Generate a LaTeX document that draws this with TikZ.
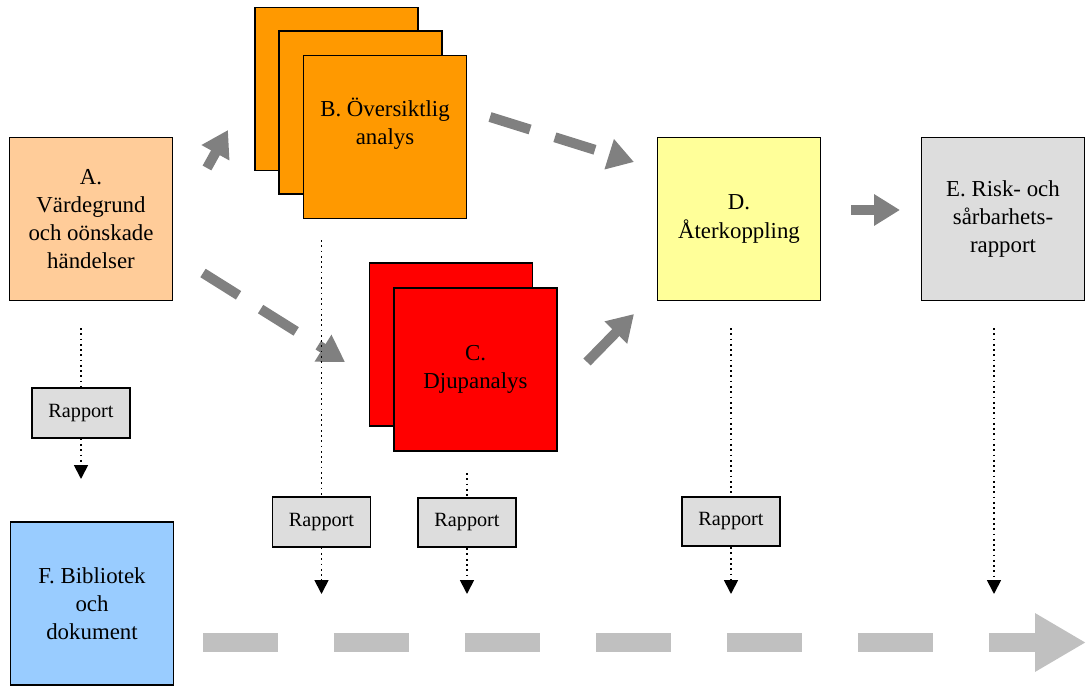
\documentclass[tikz,border=0pt]{standalone}
\usepackage{fontspec}
\setmainfont{Liberation Serif}
\usetikzlibrary{arrows.meta, positioning}
\definecolor{peach}{HTML}{FFCC99}
\definecolor{orangeB}{HTML}{FF9900}
\definecolor{redC}{HTML}{FF0000}
\definecolor{yellowD}{HTML}{FFFF99}
\definecolor{grayE}{HTML}{DDDDDD}
\definecolor{blueF}{HTML}{99CCFF}
\definecolor{arrgray}{HTML}{808080}
\definecolor{linegray}{HTML}{C0C0C0}

\begin{document}
\begin{tikzpicture}[x=0.02cm, y=-0.02cm,
    every node/.style={font=\fontsize{13}{16}\selectfont, align=center},
    stage/.style={rectangle, draw=black, line width=1.1pt, minimum width=3.26cm, minimum height=3.26cm, inner sep=0pt},
    rapport/.style={rectangle, draw=black, line width=1.1pt, fill=grayE, minimum width=1.96cm, minimum height=0.99cm, font=\fontsize{11.5}{14}\selectfont},
    flow/.style={draw=arrgray, line width=0.2cm, -{Triangle[length=0.52cm, width=0.6cm]}},
    dflow/.style={flow, dash pattern=on 0.84cm off 0.52cm},
    dotflow/.style={draw=black, line width=1pt, dotted, -{Triangle[length=0.28cm, width=0.28cm]}},
    timeline/.style={draw=linegray, line width=0.38cm, dash pattern=on 1.5cm off 1.12cm, -{Triangle[length=1.02cm, width=1.1cm]}}]
    \useasboundingbox (0,0) rectangle (1086,686);

    % 各阶段框框
    \node[stage, fill=peach] (A) at (91,219) {A.\\Värdegrund\\och oönskade\\händelser};
    \node[stage, fill=orangeB] (B3) at (336.5,89) {};
    \node[stage, fill=orangeB] (B2) at (360.5,112.5) {};
    \node[stage, fill=orangeB, text depth=0.62cm] (B) at (385,137) {B. Översiktlig\\analys};
    \node[stage, fill=redC] (C2) at (451,344.5) {};
    \node[stage, fill=redC] (C) at (475.5,369.5) {C.\\Djupanalys};
    \node[stage, fill=yellowD] (D) at (739,219) {D.\\Återkoppling};
    \node[stage, fill=grayE] (E) at (1003,219) {E. Risk- och\\sårbarhets-\\rapport};
    \node[stage, fill=blueF] (F) at (92,603.5) {F. Bibliotek\\och\\dokument};

    % 报告框框
    \node[rapport] (rA) at (81,413) {Rapport};
    \node[rapport] (rB) at (321.5,522) {Rapport};
    \node[rapport] (rC) at (467,522.5) {Rapport};
    \node[rapport] (rD) at (731,521.5) {Rapport};

    % 灰色箭头
    \coordinate (ab1) at (207,168);  \coordinate (ab2) at (228,130);
    \coordinate (ac1) at (203,273);  \coordinate (ac2) at (345,362);
    \coordinate (bd1) at (490,117);  \coordinate (bd2) at (634,162);
    \coordinate (cd1) at (587,362);  \coordinate (cd2) at (634,314);
    \coordinate (de1) at (851,210);  \coordinate (de2) at (900,210);
    \draw[flow] (ab1) -- (ab2);
    \draw[dflow] (ac1) -- (ac2);
    \draw[dflow] (bd1) -- (bd2);
    \draw[flow] (cd1) -- (cd2);
    \draw[flow] (de1) -- (de2);

    % 虚线
    \coordinate (ta) at (81,328);   \coordinate (ea) at (81,479);
    \coordinate (tb) at (321.5,240); \coordinate (eb) at (321.5,594);
    \coordinate (tc) at (467,473);  \coordinate (ec) at (467,594);
    \coordinate (td) at (731,328);  \coordinate (ed) at (731,594);
    \coordinate (te) at (994,328);  \coordinate (ee) at (994,594);
    \draw[dotflow, -] (ta) -- (rA);  \draw[dotflow] (rA) -- (ea);
    \draw[dotflow, -] (tb) -- (rB);  \draw[dotflow] (rB) -- (eb);
    \draw[dotflow, -] (tc) -- (rC);  \draw[dotflow] (rC) -- (ec);
    \draw[dotflow, -] (td) -- (rD);  \draw[dotflow] (rD) -- (ed);
    \draw[dotflow] (te) -- (ee);

    % 底部时间轴
    \coordinate (t1) at (203,642.5); \coordinate (t2) at (1086,642.5);
    \draw[timeline] (t1) -- (t2);
\end{tikzpicture}
\end{document}
